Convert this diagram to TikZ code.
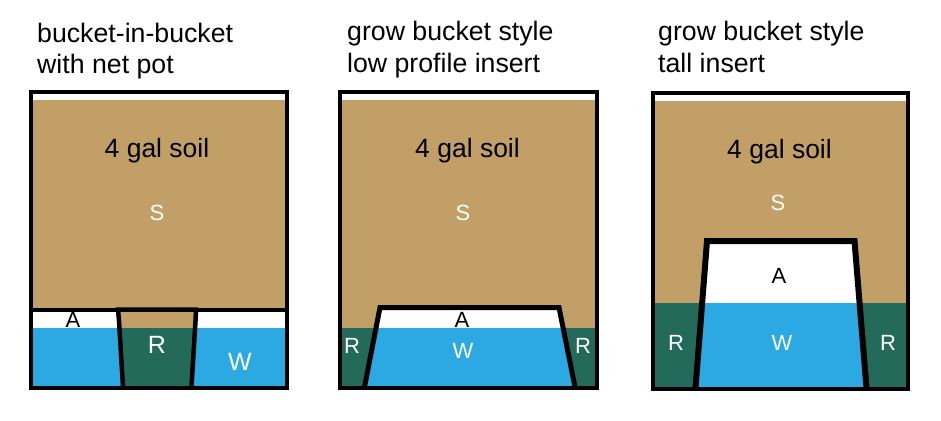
\documentclass[tikz,border=0pt]{standalone}
\usepackage{fontspec}
\setmainfont{Liberation Sans}
\definecolor{soilc}{RGB}{194,159,102}
\definecolor{waterc}{RGB}{44,168,226}
\definecolor{rootc}{RGB}{35,106,90}
\tikzset{
  soil/.style={fill=soilc},
  water/.style={fill=waterc},
  roots/.style={fill=rootc},
  boxline/.style={draw=black,line width=4pt},
  insertline/.style={draw=black,line width=5pt,line join=miter,line cap=butt},
  title/.style={anchor=base west,inner sep=0pt,font=\fontsize{26.7}{31}\selectfont},
  soiltext/.style={anchor=base,inner sep=0pt,font=\fontsize{26.5}{31}\selectfont},
  lab/.style={anchor=base,inner sep=0pt,font=\fontsize{22}{26}\selectfont},
  labbig/.style={anchor=base,inner sep=0pt,font=\fontsize{25}{30}\selectfont},
}
\begin{document}
\begin{tikzpicture}[x=1pt,y=-1pt]
\useasboundingbox (0,0) rectangle (941,420);
\fill[white] (0,0) rectangle (941,420);

% ---------------- titles
\node[title] (t1a) at (37,42) {bucket-in-bucket};
\node[title] (t1b) at (37,73) {with net pot};
\node[title] (t2a) at (347,41) {grow bucket style};
\node[title] (t2b) at (347,72) {low profile insert};
\node[title] (t3a) at (658,41) {grow bucket style};
\node[title] (t3b) at (658,72) {tall insert};

% ---------------- panel 1
\fill[soil] (30.5,100) rectangle (286.5,309);
\fill[water] (30.5,328) rectangle (286.5,387.5);
\begin{scope}
  \clip (118,309.5) -- (196,309.5) -- (195.5,321) -- (191.5,386) -- (123,386) -- (119,321) -- cycle;
  \fill[soil] (100,309) rectangle (210,328);
  \fill[roots] (100,328) rectangle (210,388);
\end{scope}
\draw[boxline] (30.5,309.5) -- (286.5,309.5);
\draw[insertline,line width=4.5pt] (123,387) -- (119,321) -- (118,309.5) -- (196,309.5) -- (195.5,321) -- (191.5,387);
\draw[boxline] (30.5,92) rectangle (286.5,387.5);
\node[soiltext] (s1) at (157,157) {4 gal soil};
\node[lab,white] (S1) at (157,220) {S};
\node[lab] (A1) at (73,327) {A};
\node[labbig,white] (R1) at (157,353) {R};
\node[labbig,white] (W1) at (240,370) {W};

% ---------------- panel 2
\fill[soil] (340,100) rectangle (596.5,328);
\fill[roots] (340,328) rectangle (596.5,387.5);
\begin{scope}
  \clip (380,307.5) -- (559,307.5) -- (575,387) -- (364.5,387) -- cycle;
  \fill[white] (350,300) rectangle (590,328);
  \fill[water] (350,328) rectangle (590,388);
\end{scope}
\draw[insertline] (364.5,387) -- (380,307.5) -- (559,307.5) -- (575,387);
\draw[boxline] (340,92) rectangle (596.5,387.5);
\node[soiltext] (s2) at (467.5,157) {4 gal soil};
\node[lab,white] (S2) at (463,220) {S};
\node[lab] (A2) at (462,327) {A};
\node[lab,white] (W2) at (463,358) {W};
\node[lab,white] (R2a) at (352,353) {R};
\node[lab,white] (R2b) at (583,353) {R};

% ---------------- panel 3
\fill[soil] (652.5,101) rectangle (908,303);
\fill[roots] (652.5,303) rectangle (908,388.5);
\begin{scope}
  \clip (707,241) -- (854.5,241) -- (866.5,388) -- (695.5,388) -- cycle;
  \fill[white] (690,230) rectangle (870,303);
  \fill[water] (690,303) rectangle (870,389);
\end{scope}
\draw[insertline,line width=6pt] (695.5,388) -- (707,241) -- (854.5,241) -- (866.5,388);
\draw[boxline] (652.5,93) rectangle (908,388.5);
\node[soiltext] (s3) at (779.5,158) {4 gal soil};
\node[lab,white] (S3) at (778,210) {S};
\node[lab] (A3) at (779,283) {A};
\node[lab,white] (W3) at (782,350) {W};
\node[lab,white] (R3a) at (676,350) {R};
\node[lab,white] (R3b) at (888,350) {R};
\end{tikzpicture}
\end{document}
